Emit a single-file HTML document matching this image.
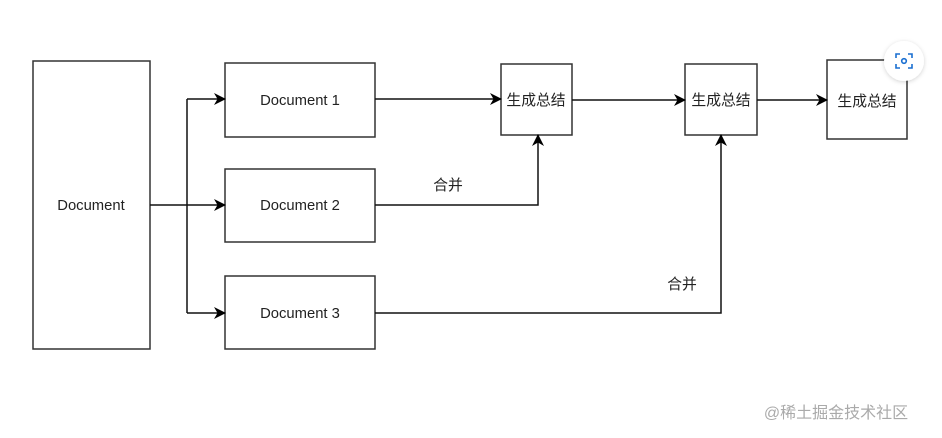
<!DOCTYPE html>
<html><head><meta charset="utf-8"><style>
body{margin:0;background:#fff;}
svg text{font-family:"Liberation Sans","Noto Sans CJK SC",sans-serif;font-size:14.8px;fill:#222;}
</style></head><body>
<svg width="942" height="433" viewBox="0 0 942 433" xmlns="http://www.w3.org/2000/svg">
<defs><marker id="a" markerWidth="12" markerHeight="12" refX="11" refY="6" orient="auto" markerUnits="userSpaceOnUse"><path d="M0,0 L12,6 L0,12 L3.5,6 Z" fill="#000"/></marker>
<filter id="s" x="-50%" y="-50%" width="200%" height="200%"><feDropShadow dx="0" dy="1" stdDeviation="2" flood-opacity="0.18"/></filter></defs>
<g fill="#fff" stroke="#333" stroke-width="1.5">
<rect x="33" y="61" width="117" height="288"/>
<rect x="225" y="63" width="150" height="74"/>
<rect x="225" y="169" width="150" height="73"/>
<rect x="225" y="276" width="150" height="73"/>
<rect x="501" y="64" width="71" height="71"/>
<rect x="685" y="64" width="72" height="71"/>
<rect x="827" y="60" width="80" height="79"/>
</g>
<g fill="none" stroke="#111" stroke-width="1.5">
<path d="M150,205 H187"/>
<path d="M187,99 V313"/>
<path d="M187,99 H225" marker-end="url(#a)"/>
<path d="M187,205 H225" marker-end="url(#a)"/>
<path d="M187,313 H225" marker-end="url(#a)"/>
<path d="M375,99 H501" marker-end="url(#a)"/>
<path d="M572,100 H685" marker-end="url(#a)"/>
<path d="M757,100 H827" marker-end="url(#a)"/>
<path d="M375,205 H538 V135" marker-end="url(#a)"/>
<path d="M375,313 H721 V135" marker-end="url(#a)"/>
</g>
<text x="91" y="210" text-anchor="middle">Document</text>
<text x="300" y="105" text-anchor="middle">Document 1</text>
<text x="300" y="210" text-anchor="middle">Document 2</text>
<text x="300" y="318" text-anchor="middle">Document 3</text>
<text x="536" y="105" text-anchor="middle">生成总结</text>
<text x="721" y="105" text-anchor="middle">生成总结</text>
<text x="867" y="106" text-anchor="middle">生成总结</text>
<text x="448" y="190" text-anchor="middle">合并</text>
<text x="682" y="289" text-anchor="middle">合并</text>
<circle cx="904" cy="61" r="20" fill="#fff" filter="url(#s)"/>
<g fill="none" stroke="#1a6fd1" stroke-width="1.6">
<path d="M896,58 V54 H900 M908,54 H912 V58 M912,64 V68 H908 M900,68 H896 V64"/>
<circle cx="904" cy="61" r="2.3"/>
</g>
<text x="836" y="418" text-anchor="middle" style="font-size:16px;fill:#aaa">@稀土掘金技术社区</text>
</svg>
</body></html>
